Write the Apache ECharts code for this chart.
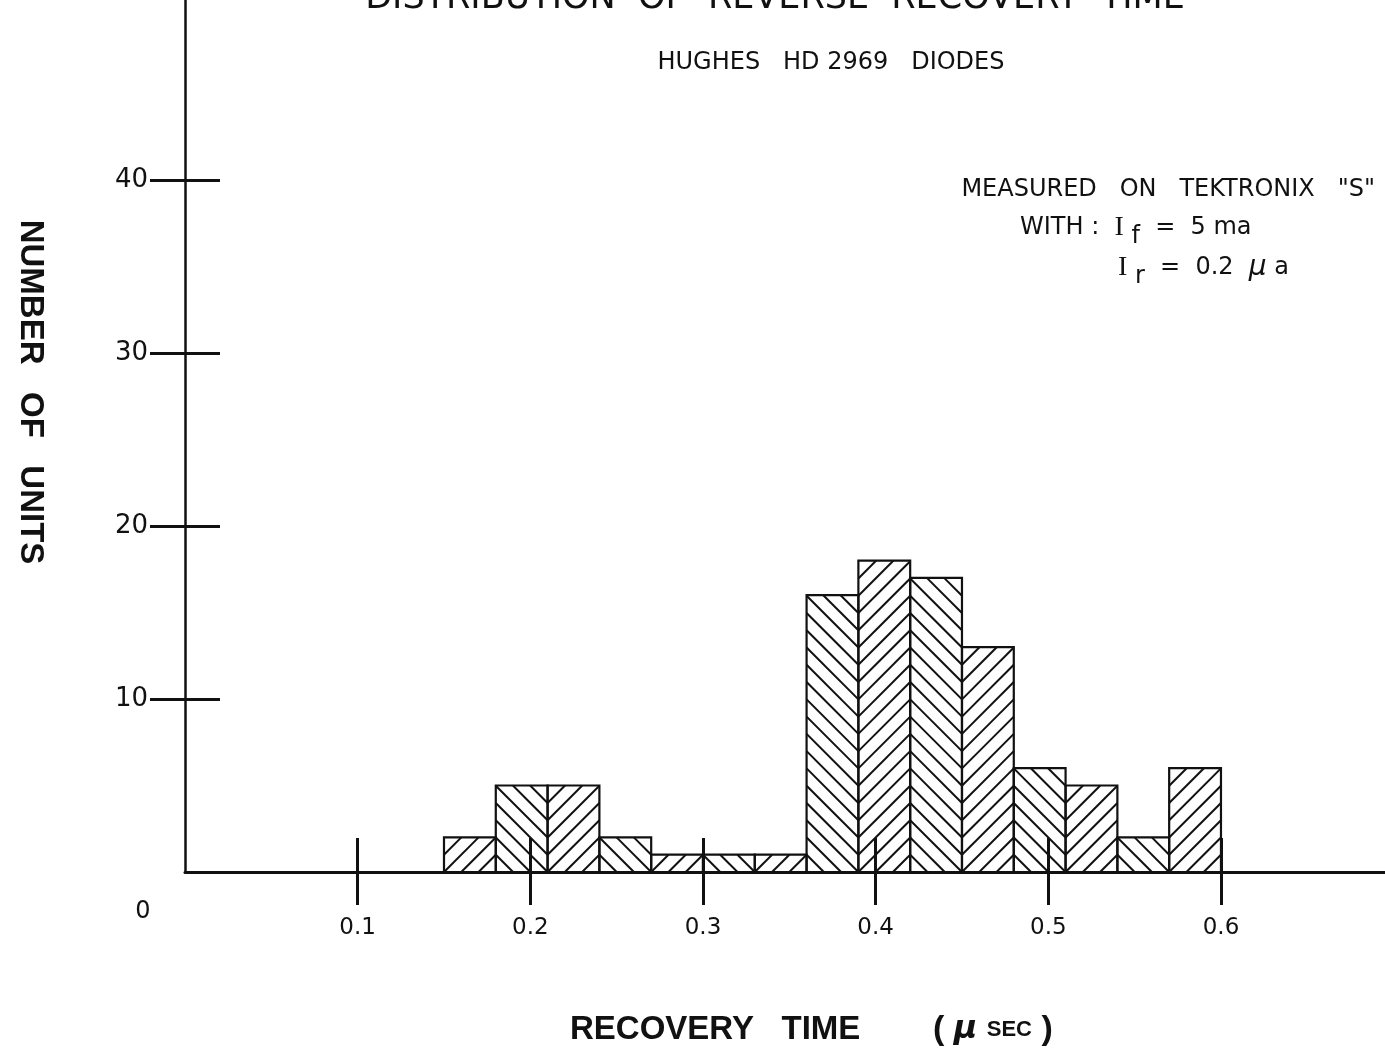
<!DOCTYPE html>
<html><head><meta charset="utf-8">
<script src="https://cdn.jsdelivr.net/npm/echarts@6/dist/echarts.min.js"></script>
<style>html,body{margin:0;padding:0;background:#fff}#c{width:1385px;height:1055px}</style>
</head><body><div id="c"></div>
<script>
// ---- data ----
const binStart = [0.15,0.18,0.21,0.24,0.27,0.30,0.33,0.36,0.39,0.42,0.45,0.48,0.51,0.54,0.57];
const binEnd   = [0.18,0.21,0.24,0.27,0.30,0.33,0.36,0.39,0.42,0.45,0.48,0.51,0.54,0.57,0.60];
const counts   = [2,5,5,2,1,1,1,16,18,17,13,6,5,2,6];
const xTickValues = [0.1,0.2,0.3,0.4,0.5,0.6];
const xTickLabels = ['0.1','0.2','0.3','0.4','0.5','0.6'];
const yTickValues = [10,20,30,40];
const yTickLabels = ['10','20','30','40'];

const INK = '#111';
const FONT = '"DejaVu Sans", "Liberation Sans", sans-serif';
const BOLD = '"Liberation Sans", sans-serif';

function renderItem(params, api) {
  const a = api.coord([api.value(0), 0]);
  const b = api.coord([api.value(1), api.value(2)]);
  const L = a[0], R = b[0], B = a[1], T = b[1];
  const w = R - L, h = B - T;
  const s = w / 3;
  const fwd = params.dataIndex % 2 === 0;
  const children = [];
  const ls = {stroke: INK, lineWidth: 2};
  for (let k = -4; k <= Math.ceil(h / s) + 1; k++) {
    const xa = Math.max(L, L - k * s);
    const xb = Math.min(R, L + h - k * s);
    if (xb - xa < 1) continue;
    const ya = B - k * s - (xa - L), yb = B - k * s - (xb - L);
    const X1 = fwd ? xa : L + R - xa, X2 = fwd ? xb : L + R - xb;
    children.push({type: 'line', silent: true, shape: {x1: X1, y1: ya, x2: X2, y2: yb}, style: ls});
  }
  children.push({type: 'rect', shape: {x: L, y: T, width: w, height: h},
    style: {fill: 'transparent', stroke: INK, lineWidth: 2.2}});
  return {type: 'group', children};
}

const tickStyle = {color: INK, width: 3};
const xLabelFmt = v => { const i = xTickValues.findIndex(t => Math.abs(t - v) < 1e-6); return i >= 0 ? xTickLabels[i] : ''; };
const yLabelFmt = v => { const i = yTickValues.findIndex(t => Math.abs(t - v) < 1e-6); return i >= 0 ? yTickLabels[i] : ''; };

const chart = echarts.init(document.getElementById('c'), null, {renderer: 'canvas'});
chart.setOption({
  backgroundColor: '#fff',
  animation: false,
  grid: {left: 185, right: 0, top: 0, bottom: 183, containLabel: false},
  xAxis: [
    {type: 'value', min: 0, max: 0.695, interval: 0.1, position: 'bottom',
     axisLine: {show: true, onZero: false, lineStyle: {color: INK, width: 3}},
     axisTick: {show: true, customValues: xTickValues, length: 33, inside: false, lineStyle: tickStyle},
     axisLabel: {customValues: xTickValues, margin: 45, fontSize: 23, color: INK, fontFamily: FONT, formatter: xLabelFmt},
     splitLine: {show: false}},
    {type: 'value', min: 0, max: 0.695, interval: 0.1, position: 'bottom', offset: 0,
     axisLine: {show: false},
     axisTick: {show: true, customValues: xTickValues, length: 34, inside: true, lineStyle: tickStyle},
     axisLabel: {show: false}, splitLine: {show: false}}
  ],
  yAxis: [
    {type: 'value', min: 0, max: 50.4, interval: 10, position: 'left',
     axisLine: {show: true, onZero: false, lineStyle: {color: INK, width: 2.5}},
     axisTick: {show: true, customValues: yTickValues, length: 35, inside: false, lineStyle: tickStyle},
     axisLabel: {customValues: yTickValues, margin: 37, fontSize: 26, color: INK, fontFamily: FONT, formatter: yLabelFmt},
     splitLine: {show: false}},
    {type: 'value', min: 0, max: 50.4, interval: 10, position: 'left', offset: 0,
     axisLine: {show: false},
     axisTick: {show: true, customValues: yTickValues, length: 35, inside: true, lineStyle: tickStyle},
     axisLabel: {show: false}, splitLine: {show: false}}
  ],
  series: [{
    type: 'custom', xAxisIndex: 0, yAxisIndex: 0,
    renderItem,
    encode: {x: [0, 1], y: 2},
    data: binStart.map((s, i) => [s, binEnd[i], counts[i]])
  }],
  graphic: [
    {type: 'text', position: [775, -1], style: {text: 'DISTRIBUTION  OF  REVERSE  RECOVERY  TIME', fill: INK, font: '35px ' + FONT, align: 'center', verticalAlign: 'middle'}},
    {type: 'text', position: [831, 63], style: {text: 'HUGHES   HD 2969   DIODES', fill: INK, font: '24px ' + FONT, align: 'center', verticalAlign: 'middle'}},
    {type: 'text', position: [1375, 190], style: {text: 'MEASURED   ON   TEKTRONIX   "S"', fill: INK, font: '24px ' + FONT, align: 'right', verticalAlign: 'middle'}},
    {type: 'text', position: [1020, 228], style: {
      text: 'WITH :  {i|I} {sub|f}  =  5 ma', fill: INK, font: '24px ' + FONT, align: 'left', verticalAlign: 'middle',
      rich: {i: {font: '28px "Liberation Serif", serif', fill: INK}, sub: {font: '24px ' + FONT, fill: INK, padding: [18, 0, 0, 0]}}}},
    {type: 'text', position: [1118, 268], style: {
      text: '{i|I} {sub|r}  =  0.2  {mu|μ} a', fill: INK, font: '24px ' + FONT, align: 'left', verticalAlign: 'middle',
      rich: {i: {font: '28px "Liberation Serif", serif', fill: INK}, sub: {font: '24px ' + FONT, fill: INK, padding: [18, 0, 0, 0]},
             mu: {font: 'italic 28px ' + FONT, fill: INK}}}},
    {type: 'text', position: [143, 912], style: {text: '0', fill: INK, font: '24px ' + FONT, align: 'center', verticalAlign: 'middle'}},
    {type: 'text', position: [30, 392], rotation: -Math.PI / 2, style: {text: 'NUMBER   OF   UNITS', fill: INK, font: 'bold 33px ' + BOLD, align: 'center', verticalAlign: 'middle'}},
    {type: 'text', position: [570, 1030], style: {text: 'RECOVERY   TIME', fill: INK, font: 'bold 33px ' + BOLD, align: 'left', verticalAlign: 'middle'}},
    {type: 'text', position: [933, 1030], style: {
      text: '( {mu|μ} {s|SEC} )', fill: INK, font: 'bold 34px ' + BOLD, align: 'left', verticalAlign: 'middle',
      rich: {mu: {font: 'italic bold 32px ' + FONT, fill: INK}, s: {font: 'bold 22px ' + BOLD, fill: INK}}}}
  ]
});
</script></body></html>
